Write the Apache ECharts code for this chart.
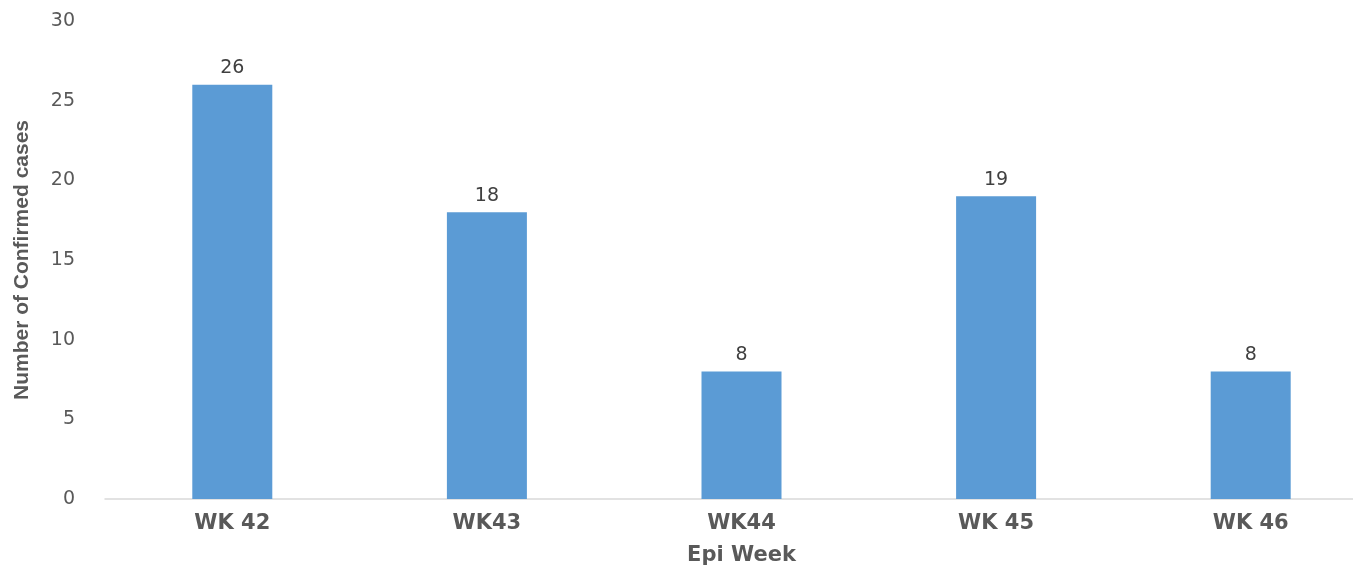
<!DOCTYPE html>
<html><head><meta charset="utf-8">
<script src="https://cdn.jsdelivr.net/npm/echarts@6/dist/echarts.min.js"></script>
<style>html,body{margin:0;padding:0;background:#fff}#c{width:1353px;height:568px}</style>
</head><body><div id="c"></div>
<script>
const categories = ['WK 42', 'WK43', 'WK44', 'WK 45', 'WK 46'];
const cases = [26, 18, 8, 19, 8];
const yTicks = { min: 0, max: 30, interval: 5 };

const chart = echarts.init(document.getElementById('c'), null, { renderer: 'canvas' });
chart.setOption({
  animation: false,
  grid: { left: 105, width: 1273, top: 21, bottom: 69, outerBoundsMode: 'none', containLabel: false },
  xAxis: {
    type: 'category', data: categories,
    name: 'Epi Week', nameLocation: 'middle', nameGap: 46,
    nameTextStyle: { fontFamily: 'DejaVu Sans', fontWeight: 'bold', fontSize: 21, color: '#595959' },
    axisLine: { lineStyle: { color: '#d9d9d9', width: 1.5 } },
    axisTick: { show: false },
    axisLabel: { fontFamily: 'DejaVu Sans', fontWeight: 'bold', fontSize: 21, color: '#595959', margin: 14 }
  },
  yAxis: {
    type: 'value', min: yTicks.min, max: yTicks.max, interval: yTicks.interval,
    name: 'Number of Confirmed cases', nameLocation: 'middle', nameGap: 72,
    nameTextStyle: { fontFamily: 'Liberation Sans', fontWeight: 'bold', fontSize: 21, color: '#595959' },
    splitLine: { show: false },
    axisLine: { show: false }, axisTick: { show: false },
    axisLabel: { fontFamily: 'DejaVu Sans', fontSize: 19, color: '#595959', margin: 30 }
  },
  series: [{
    type: 'bar', data: cases, barWidth: 80,
    itemStyle: { color: '#5b9bd5' },
    label: { show: true, position: 'top', distance: 7, fontFamily: 'DejaVu Sans', fontSize: 19, color: '#404040' }
  }]
});
</script></body></html>
